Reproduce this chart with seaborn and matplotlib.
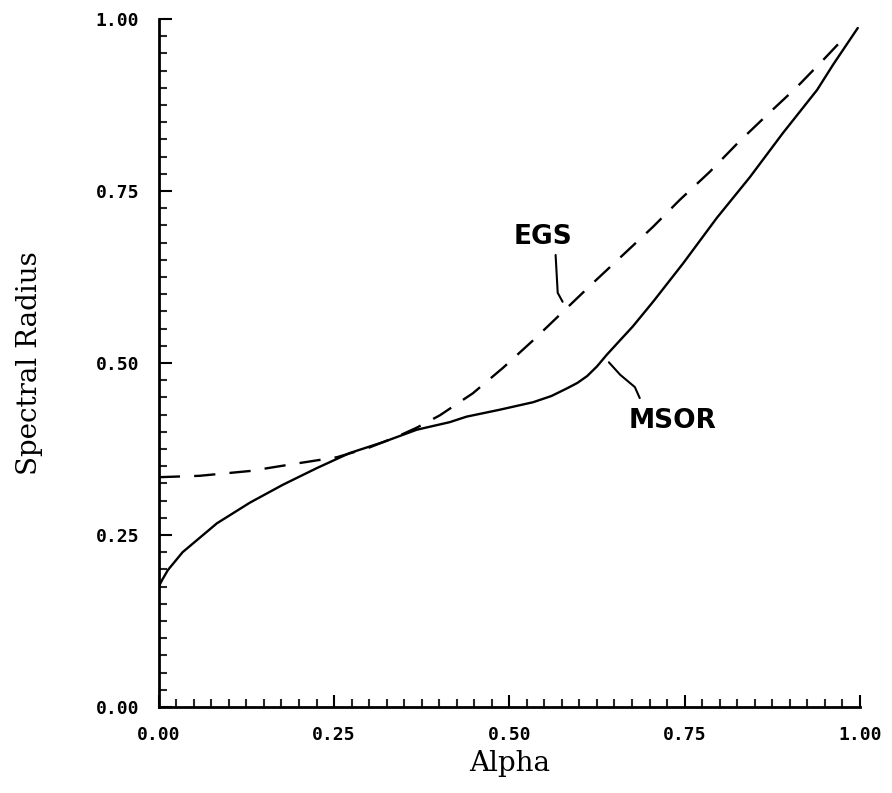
import pandas as pd
import seaborn as sns
import matplotlib.pyplot as plt
from matplotlib.ticker import MultipleLocator, FormatStrFormatter

plt.switch_backend('Agg')

# values
msor_alpha = [0.0, 0.005, 0.013, 0.034, 0.083, 0.130, 0.177, 0.225, 0.272, 0.320, 0.368,
              0.415, 0.439, 0.486, 0.534, 0.560, 0.582, 0.597, 0.611, 0.625, 0.639,
              0.657, 0.676, 0.705, 0.748, 0.796, 0.843, 0.890, 0.939, 0.962, 0.997]
msor_radius = [0.175, 0.185, 0.199, 0.225, 0.267, 0.297, 0.323, 0.347, 0.369, 0.385, 0.403,
               0.414, 0.422, 0.432, 0.443, 0.452, 0.463, 0.471, 0.481, 0.495, 0.512,
               0.532, 0.553, 0.589, 0.645, 0.711, 0.770, 0.834, 0.897, 0.934, 0.987]

egs_alpha = [0.0, 0.058, 0.130, 0.191, 0.254, 0.300, 0.340, 0.368, 0.401, 0.448, 0.491,
             0.534, 0.576, 0.619, 0.662, 0.705, 0.743, 0.786, 0.826, 0.867, 0.910,
             0.950, 0.975]
egs_radius = [0.334, 0.336, 0.343, 0.353, 0.363, 0.377, 0.393, 0.406, 0.424, 0.456, 0.493,
              0.533, 0.574, 0.616, 0.657, 0.698, 0.737, 0.778, 0.820, 0.860, 0.901,
              0.943, 0.970]

df = pd.concat([
    pd.DataFrame({'Alpha': msor_alpha, 'Spectral Radius': msor_radius, 'method': 'MSOR'}),
    pd.DataFrame({'Alpha': egs_alpha, 'Spectral Radius': egs_radius, 'method': 'EGS'}),
])

sns.set_style("ticks")

fig = plt.figure(figsize=(8.92, 7.93), dpi=100)
ax = fig.add_axes([0.178, 0.1085, 0.786, 0.8675])

sns.lineplot(data=df, x='Alpha', y='Spectral Radius', style='method',
             dashes={'MSOR': '', 'EGS': (9, 6)}, color='black', linewidth=1.7,
             estimator=None, sort=False, legend=False, ax=ax)

ax.set_xlim(0, 1)
ax.set_ylim(0, 1)
ax.xaxis.set_major_locator(MultipleLocator(0.25))
ax.yaxis.set_major_locator(MultipleLocator(0.25))
ax.xaxis.set_minor_locator(MultipleLocator(0.025))
ax.yaxis.set_minor_locator(MultipleLocator(0.025))
ax.xaxis.set_major_formatter(FormatStrFormatter('%.2f'))
ax.yaxis.set_major_formatter(FormatStrFormatter('%.2f'))

ax.tick_params(which='major', direction='in', length=9, width=1.5, pad=14,
               labelsize=13, colors='black')
ax.tick_params(which='minor', direction='in', length=6, width=1.5)
for lab in ax.get_xticklabels() + ax.get_yticklabels():
    lab.set_family('DejaVu Sans Mono')
    lab.set_fontweight('bold')

sns.despine(ax=ax)
for s in ('left', 'bottom'):
    ax.spines[s].set_linewidth(2)
    ax.spines[s].set_color('black')

ax.set_xlabel('Alpha', family='DejaVu Serif', fontsize=20, labelpad=4, color='black')
ax.set_ylabel('Spectral Radius', family='DejaVu Serif', fontsize=20, labelpad=38,
              color='black')

# curve labels with leader lines
ax.text(0.548, 0.683, 'EGS', ha='center', va='center', fontsize=19,
        fontweight='bold', family='DejaVu Sans', color='black')
ax.plot([0.566, 0.569, 0.576], [0.657, 0.602, 0.589], color='black', lw=1.5)

ax.text(0.733, 0.416, 'MSOR', ha='center', va='center', fontsize=19,
        fontweight='bold', family='DejaVu Sans', color='black')
ax.plot([0.642, 0.658, 0.679, 0.686], [0.501, 0.483, 0.465, 0.449], color='black', lw=1.5)

fig.savefig('out.png', dpi=100)
plt.close(fig)
